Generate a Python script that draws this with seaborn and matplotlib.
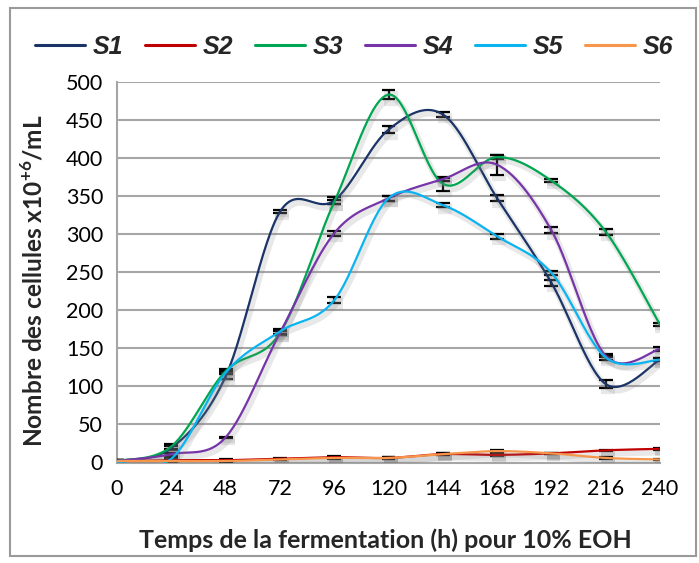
import numpy as np
import pandas as pd
import matplotlib
matplotlib.use("Agg")
import matplotlib.pyplot as plt
import matplotlib.patheffects as pe
from matplotlib.patches import Rectangle
import seaborn as sns

# Sampling times (h)
hours = [0, 24, 48, 72, 96, 120, 144, 168, 192, 216, 240]

# Cell counts (x10^6 / mL) for each strain
s1 = [2, 19, 113, 329, 344, 437, 457, 347, 236, 103, 135]
s2 = [2, 3, 3, 5, 7, 6, 11, 10, 12, 16, 18]
s3 = [2, 21, 120, 170, 342, 483, 366, 401, 370, 303, 181]
s4 = [2, 11, 33, 170, 301, 347, 372, 391, 305, 140, 149]
s5 = [0, 5, 118, 172, 213, 347, 338, 297, 249, 138, 135]
s6 = [2, 2, 2, 4, 6, 6, 11, 15, 12, 6, 4]

# Standard deviations
e1 = [1, 3, 3, 2, 5, 5, 3, 4, 4, 5, 2]
e2 = [1, 1, 1, 1, 1, 1, 1, 1, 1, 1, 1]
e3 = [1, 3, 3, 3, 3, 6, 9, 3, 2, 4, 2]
e4 = [1, 2, 1, 3, 3, 3, 2, 13, 4, 2, 2]
e5 = [1, 2, 2, 3, 4, 3, 3, 3, 3, 3, 2]
e6 = [1, 1, 1, 1, 1, 1, 1, 1, 1, 1, 1]

names = ["S1", "S2", "S3", "S4", "S5", "S6"]
series = [s1, s2, s3, s4, s5, s6]
errors = [e1, e2, e3, e4, e5, e6]
colors = ["#1B3468", "#C00000", "#00A651", "#7535A8", "#0AB4F0", "#F7964A"]


def smooth(xs, ys, n=30):
    """Catmull-Rom (cubic Bezier, tension 1/6) smoothing through the points."""
    xs = np.asarray(xs, float)
    ys = np.asarray(ys, float)
    px = np.concatenate([[xs[0]], xs, [xs[-1]]])
    py = np.concatenate([[ys[0]], ys, [ys[-1]]])
    out_x, out_y = [], []
    t = np.linspace(0, 1, n)
    for i in range(1, len(px) - 2):
        p0 = np.array([px[i], py[i]])
        p3 = np.array([px[i + 1], py[i + 1]])
        p1 = p0 + (np.array([px[i + 1], py[i + 1]]) - np.array([px[i - 1], py[i - 1]])) / 6
        p2 = p3 - (np.array([px[i + 2], py[i + 2]]) - np.array([px[i], py[i]])) / 6
        b = ((1 - t) ** 3)[:, None] * p0 + (3 * (1 - t) ** 2 * t)[:, None] * p1 \
            + (3 * (1 - t) * t ** 2)[:, None] * p2 + (t ** 3)[:, None] * p3
        if i > 1:
            b = b[1:]
        out_x.extend(b[:, 0])
        out_y.extend(b[:, 1])
    return out_x, out_y


rows = []
for name, ys in zip(names, series):
    sx, sy = smooth(hours, ys)
    for a, b in zip(sx, sy):
        rows.append({"t": a, "n": b, "souche": name})
curves = pd.DataFrame(rows)

sns.set_theme(style="white")
plt.rcParams["font.family"] = ["Lato", "DejaVu Sans"]
plt.rcParams["mathtext.fontset"] = "custom"
plt.rcParams["mathtext.rm"] = "Lato"
plt.rcParams["mathtext.bf"] = "Lato:bold"

fig = plt.figure(figsize=(6.99, 5.63), dpi=100)
ax = fig.add_axes([117 / 699, 1 - 462.5 / 563, (660 - 117) / 699, (462.5 - 81.7) / 563])

grid_col = "#A6A6A6"
ax.set_ylim(0, 500)
ax.set_xlim(0, 240)
ax.set_yticks(range(0, 501, 50))
ax.set_xticks(hours)
ax.yaxis.grid(True, color=grid_col, lw=1.5)
ax.set_axisbelow(True)

# Error bars
for ys, es in zip(series, errors):
    ax.errorbar(hours, ys, yerr=es, fmt="none", ecolor="black",
                elinewidth=1.6, capsize=5, capthick=1.6, zorder=3)

shadow = [pe.SimpleLineShadow(offset=(1.5, -2.5), shadow_color="#808080",
                              alpha=0.18, linewidth=4.5), pe.Normal()]
sns.lineplot(data=curves, x="t", y="n", hue="souche",
             palette=dict(zip(names, colors)), sort=False, estimator=None,
             lw=1.6, ax=ax, legend=True, zorder=4)
for line in ax.get_lines():
    line.set_path_effects(shadow)

for side in ["top", "right"]:
    ax.spines[side].set_visible(False)
for side in ["left", "bottom"]:
    ax.spines[side].set_color(grid_col)
    ax.spines[side].set_linewidth(1.5)

ax.tick_params(axis="both", which="both", direction="out", length=6, width=1.5,
               color=grid_col, labelsize=15.5, labelcolor="black")
ax.tick_params(axis="y", pad=4)
ax.tick_params(axis="x", pad=6)
ax.set_xlabel("Temps de la fermentation (h) pour 10% EOH", fontsize=18,
              fontweight="bold")
ax.xaxis.set_label_coords((385 - 117) / (660 - 117), -(540 - 462.5) / (462.5 - 81.7))
ax.xaxis.label.set_va("center")
ax.set_ylabel(r"Nombre des cellules x10$^{\mathbf{+6}}$/mL", fontsize=17.6,
              fontweight="bold")
ax.yaxis.set_label_coords(-(117 - 33) / (660 - 117), (462.5 - 281) / (462.5 - 81.7))
ax.yaxis.label.set_va("center")

handles, labels = ax.get_legend_handles_labels()
leg = ax.legend(handles, labels, loc="center", bbox_to_anchor=(354 / 699, 1 - 47 / 563),
                bbox_transform=fig.transFigure, ncol=6, frameon=False,
                handlelength=2.0, handletextpad=0.3, columnspacing=0.88,
                prop={"family": "Liberation Sans", "weight": "bold",
                      "style": "italic", "size": 18})
for h in leg.legend_handles:
    h.set_linewidth(2.2)
    h.set_path_effects([])

fig.patches.append(Rectangle((10 / 699, 1 - 556 / 563), 686 / 699, 548 / 563,
                             transform=fig.transFigure, fill=False,
                             edgecolor="#9A9A9A", lw=1.5))

fig.savefig("out.png", dpi=100)
